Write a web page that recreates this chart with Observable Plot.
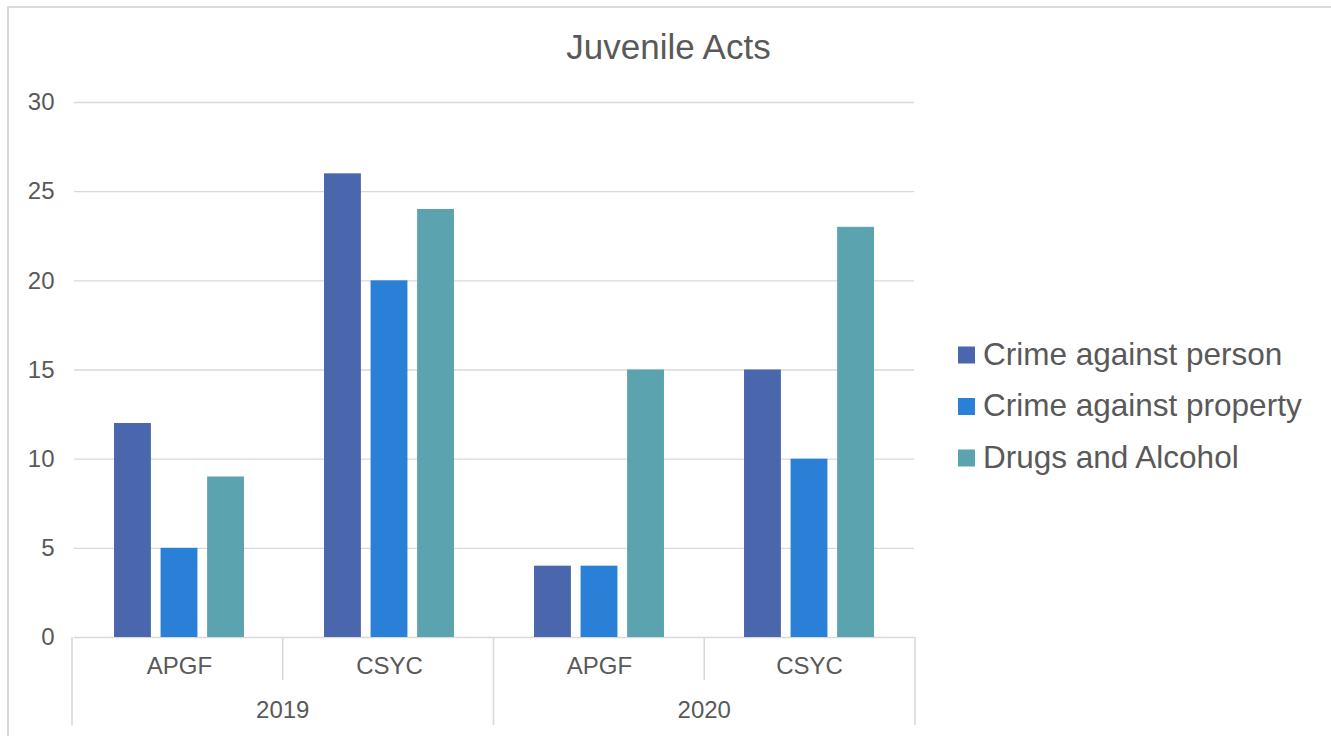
<!DOCTYPE html>
<html>
<head>
<meta charset="utf-8">
<script src="https://cdn.jsdelivr.net/npm/d3@7"></script>
<script src="https://cdn.jsdelivr.net/npm/@observablehq/plot@0.6"></script>
<style>
  html, body { margin: 0; padding: 0; background: #fff; }
  body { width: 1331px; height: 736px; overflow: hidden; position: relative; font-family: "Liberation Sans", Arial, sans-serif; }
  #border { position: absolute; left: 7px; top: 6px; width: 1400px; height: 800px; border: 2px solid #d9d9d9; box-sizing: border-box; }
  #chart { position: absolute; left: 0; top: 0; }
</style>
</head>
<body>
<div id="border"></div>
<div id="chart"></div>
<script>
// Categories: each column group is a (year, site) pair
const years = ["2019", "2019", "2020", "2020"];
const sites = ["APGF", "CSYC", "APGF", "CSYC"];

// Series and their counts per group
const series = ["Crime against person", "Crime against property", "Drugs and Alcohol"];
const crimePerson = [12, 26, 4, 15];
const crimeProperty = [5, 20, 4, 10];
const drugsAlcohol = [9, 24, 15, 23];
const colors = ["#4a66ac", "#2a7fd6", "#5ba3ae"];

const yTicks = [0, 5, 10, 15, 20, 25, 30];
const titleText = "Juvenile Acts";

// Build a tidy table for the bars
const groupKeys = years.map((y, i) => y + " " + sites[i]);
const seriesValues = [crimePerson, crimeProperty, drugsAlcohol];
const rows = [];
groupKeys.forEach((g, i) => {
  series.forEach((s, j) => rows.push({group: g, year: years[i], site: sites[i], series: s, value: seriesValues[j][i]}));
});

const W = 1331, H = 736;
const mL = 72, mR = 416, mT = 102, mB = 99;
const textColor = "#595959";
const gridColor = "#d9d9d9";

const chart = Plot.plot({
  width: W,
  height: H,
  marginLeft: mL,
  marginRight: mR,
  marginTop: mT,
  marginBottom: mB,
  style: {fontFamily: "'Liberation Sans', Arial, sans-serif", fontSize: "24px", color: textColor, background: "transparent", overflow: "visible"},
  fx: {domain: groupKeys, padding: 0, axis: null},
  x: {domain: series, paddingInner: 0.208, paddingOuter: 0.86, round: false, axis: null},
  y: {domain: [0, 30], axis: null},
  color: {domain: series, range: colors},
  marks: [
    Plot.gridY(yTicks, {stroke: gridColor, strokeOpacity: 1, strokeWidth: 1.4}),
    Plot.axisY(yTicks, {anchor: "left", tickSize: 0, tickPadding: 20, label: null, fontSize: 24, fill: textColor}),
    Plot.barY(rows, {fx: "group", x: "series", y: "value", fill: "series"}),
    Plot.axisFx({anchor: "bottom", tickSize: 0, tickPadding: 19, label: null, fontSize: 24, fill: textColor,
      tickFormat: d => d.split(" ")[1]})
  ]
});

document.getElementById("chart").appendChild(chart);

// Hierarchical category axis: separators and year labels, positioned from the fx scale
const svg = d3.select(chart);
const fxs = chart.scale("fx");
const band = d3.scaleBand().domain(fxs.domain).range(fxs.range).paddingInner(0).paddingOuter(0);
const y0 = H - mB;
const g = svg.append("g").attr("stroke", gridColor).attr("stroke-width", 1.6);
const edges = groupKeys.map((k, i) => ({x: band(k), long: i === 0 || years[i] !== years[i - 1]}));
edges.push({x: band(groupKeys[groupKeys.length - 1]) + band.bandwidth(), long: true});
g.selectAll("line").data(edges).join("line")
  .attr("x1", d => d.x).attr("x2", d => d.x)
  .attr("y1", y0).attr("y2", d => d.long ? y0 + 88 : y0 + 43);

const yearList = Array.from(new Set(years));
svg.append("g").selectAll("text").data(yearList).join("text")
  .attr("x", yr => {
    const ks = groupKeys.filter((k, i) => years[i] === yr);
    return (band(ks[0]) + band(ks[ks.length - 1]) + band.bandwidth()) / 2;
  })
  .attr("y", y0 + 81)
  .attr("text-anchor", "middle")
  .attr("fill", textColor)
  .attr("font-size", 24)
  .text(d => d);

// Title
svg.append("text")
  .attr("x", 668.5).attr("y", 59)
  .attr("text-anchor", "middle")
  .attr("fill", textColor)
  .attr("font-size", 35)
  .text(titleText);

// Legend
const lg = svg.append("g").attr("transform", "translate(958,355)");
const item = lg.selectAll("g").data(series).join("g").attr("transform", (d, i) => `translate(0,${i * 51.5})`);
item.append("rect").attr("x", 0).attr("y", -8.5).attr("width", 17).attr("height", 17).attr("fill", (d, i) => colors[i]);
item.append("text").attr("x", 25).attr("y", 9.5).attr("text-anchor", "start").attr("fill", textColor).attr("font-size", 31.5).text(d => d);
</script>
</body>
</html>
